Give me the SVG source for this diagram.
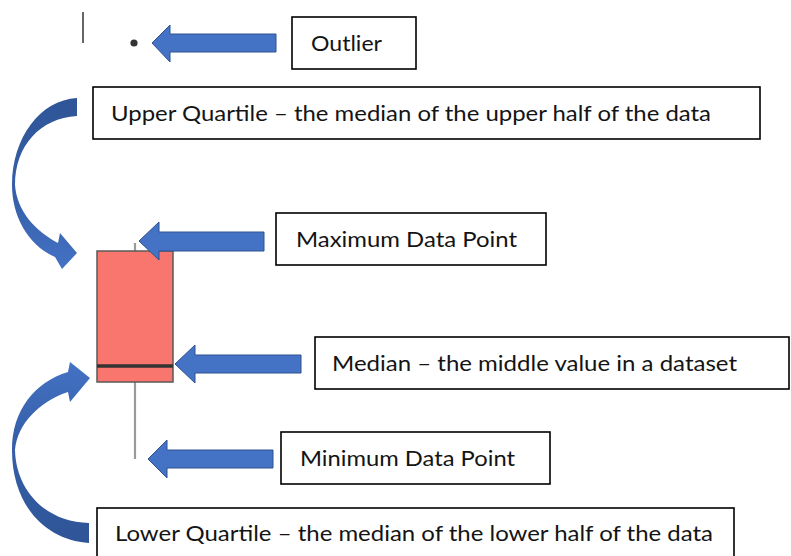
<svg xmlns="http://www.w3.org/2000/svg" width="791" height="556" viewBox="0 0 791 556">
  <defs>
    <style>
      .label-box { fill: #ffffff; stroke: #000000; stroke-width: 1.6; }
      .label-text { font-family: Lato, "Open Sans", "Liberation Sans", sans-serif; font-size: 21px; fill: #141414; }
      .block-arrow { fill: #4472C4; stroke: #2F528F; stroke-width: 1; stroke-linejoin: miter; }
      .curved-arrow { stroke: none; }
      .whisker { stroke: #9a9a9a; stroke-width: 2.2; fill: none; }
    </style>
    <linearGradient id="curveShadeDown" x1="0" y1="0" x2="0" y2="1">
      <stop offset="0" stop-color="#2F5597"/>
      <stop offset="0.6" stop-color="#3660AA"/>
      <stop offset="1" stop-color="#4472C4"/>
    </linearGradient>
    <linearGradient id="curveShadeUp" x1="0" y1="1" x2="0" y2="0">
      <stop offset="0" stop-color="#2F5597"/>
      <stop offset="0.6" stop-color="#3660AA"/>
      <stop offset="1" stop-color="#4472C4"/>
    </linearGradient>
  </defs>

  <rect width="791" height="556" fill="#ffffff"/>

  <!-- text cursor mark -->
  <line x1="83" y1="12" x2="83" y2="43" stroke="#333333" stroke-width="1.5"/>

  <!-- box plot -->
  <g id="boxplot">
    <line class="whisker" x1="135" y1="243" x2="135" y2="251"/>
    <line class="whisker" x1="135" y1="382" x2="135" y2="459"/>
    <rect x="97" y="251" width="76" height="131" fill="#F8766D" stroke="#595959" stroke-width="1.5"/>
    <line x1="97" y1="366" x2="173" y2="366" stroke="#333333" stroke-width="3.5"/>
    <circle id="outlier-point" cx="134" cy="43" r="3.6" fill="#333333"/>
  </g>

  <!-- labels -->
  <g id="label-outlier">
    <rect class="label-box" x="292" y="17" width="124" height="52"/>
    <text class="label-text" x="311" y="51" textLength="71" lengthAdjust="spacingAndGlyphs">Outlier</text>
  </g>
  <g id="label-upper-quartile">
    <rect class="label-box" x="93" y="87" width="667" height="52"/>
    <text class="label-text" x="111" y="121" textLength="600" lengthAdjust="spacingAndGlyphs">Upper Quartile – the median of the upper half of the data</text>
  </g>
  <g id="label-maximum">
    <rect class="label-box" x="276" y="213" width="270" height="52"/>
    <text class="label-text" x="296" y="247" textLength="221" lengthAdjust="spacingAndGlyphs">Maximum Data Point</text>
  </g>
  <g id="label-median">
    <rect class="label-box" x="315" y="337" width="474" height="52"/>
    <text class="label-text" x="332" y="371" textLength="405" lengthAdjust="spacingAndGlyphs">Median – the middle value in a dataset</text>
  </g>
  <g id="label-minimum">
    <rect class="label-box" x="281" y="432" width="269" height="52"/>
    <text class="label-text" x="300" y="466" textLength="215" lengthAdjust="spacingAndGlyphs">Minimum Data Point</text>
  </g>
  <g id="label-lower-quartile">
    <rect class="label-box" x="97" y="508" width="637" height="60"/>
    <text class="label-text" x="115" y="541" textLength="598" lengthAdjust="spacingAndGlyphs">Lower Quartile – the median of the lower half of the data</text>
  </g>

  <!-- connectors -->
  <g id="connectors">
    <polygon class="block-arrow" points="152,43 170,25 170,34 276,34 276,52 170,52 170,62"/>
    <polygon class="block-arrow" points="139,241 159,222 159,232 264,232 264,251 159,251 159,260"/>
    <polygon class="block-arrow" points="175,364 195,345 195,355 301,355 301,373 195,373 195,383"/>
    <polygon class="block-arrow" points="148,459 167,440 167,450 273,450 273,468 167,468 167,478"/>

    <!-- curved arrow: upper quartile label to top of box -->
    <path class="curved-arrow" fill="url(#curveShadeDown)"
          d="M77,98 C40,100 12,138 12,185 C12,217 29,246 55,257 L62,269 L77,253 L60,233 L58,243 C36,231 17,212 15,185 C15,146 40,118 77,116 Z"/>

    <!-- curved arrow: lower quartile label to bottom of box -->
    <path class="curved-arrow" fill="url(#curveShadeUp)"
          d="M89,543 C45,540 12,505 12,450 C12,410 35,382 68,372 L70,362 L90,378 L70,402 L68,392 C40,401 17,424 15,450 C16,490 45,522 89,523 Z"/>
  </g>
</svg>
